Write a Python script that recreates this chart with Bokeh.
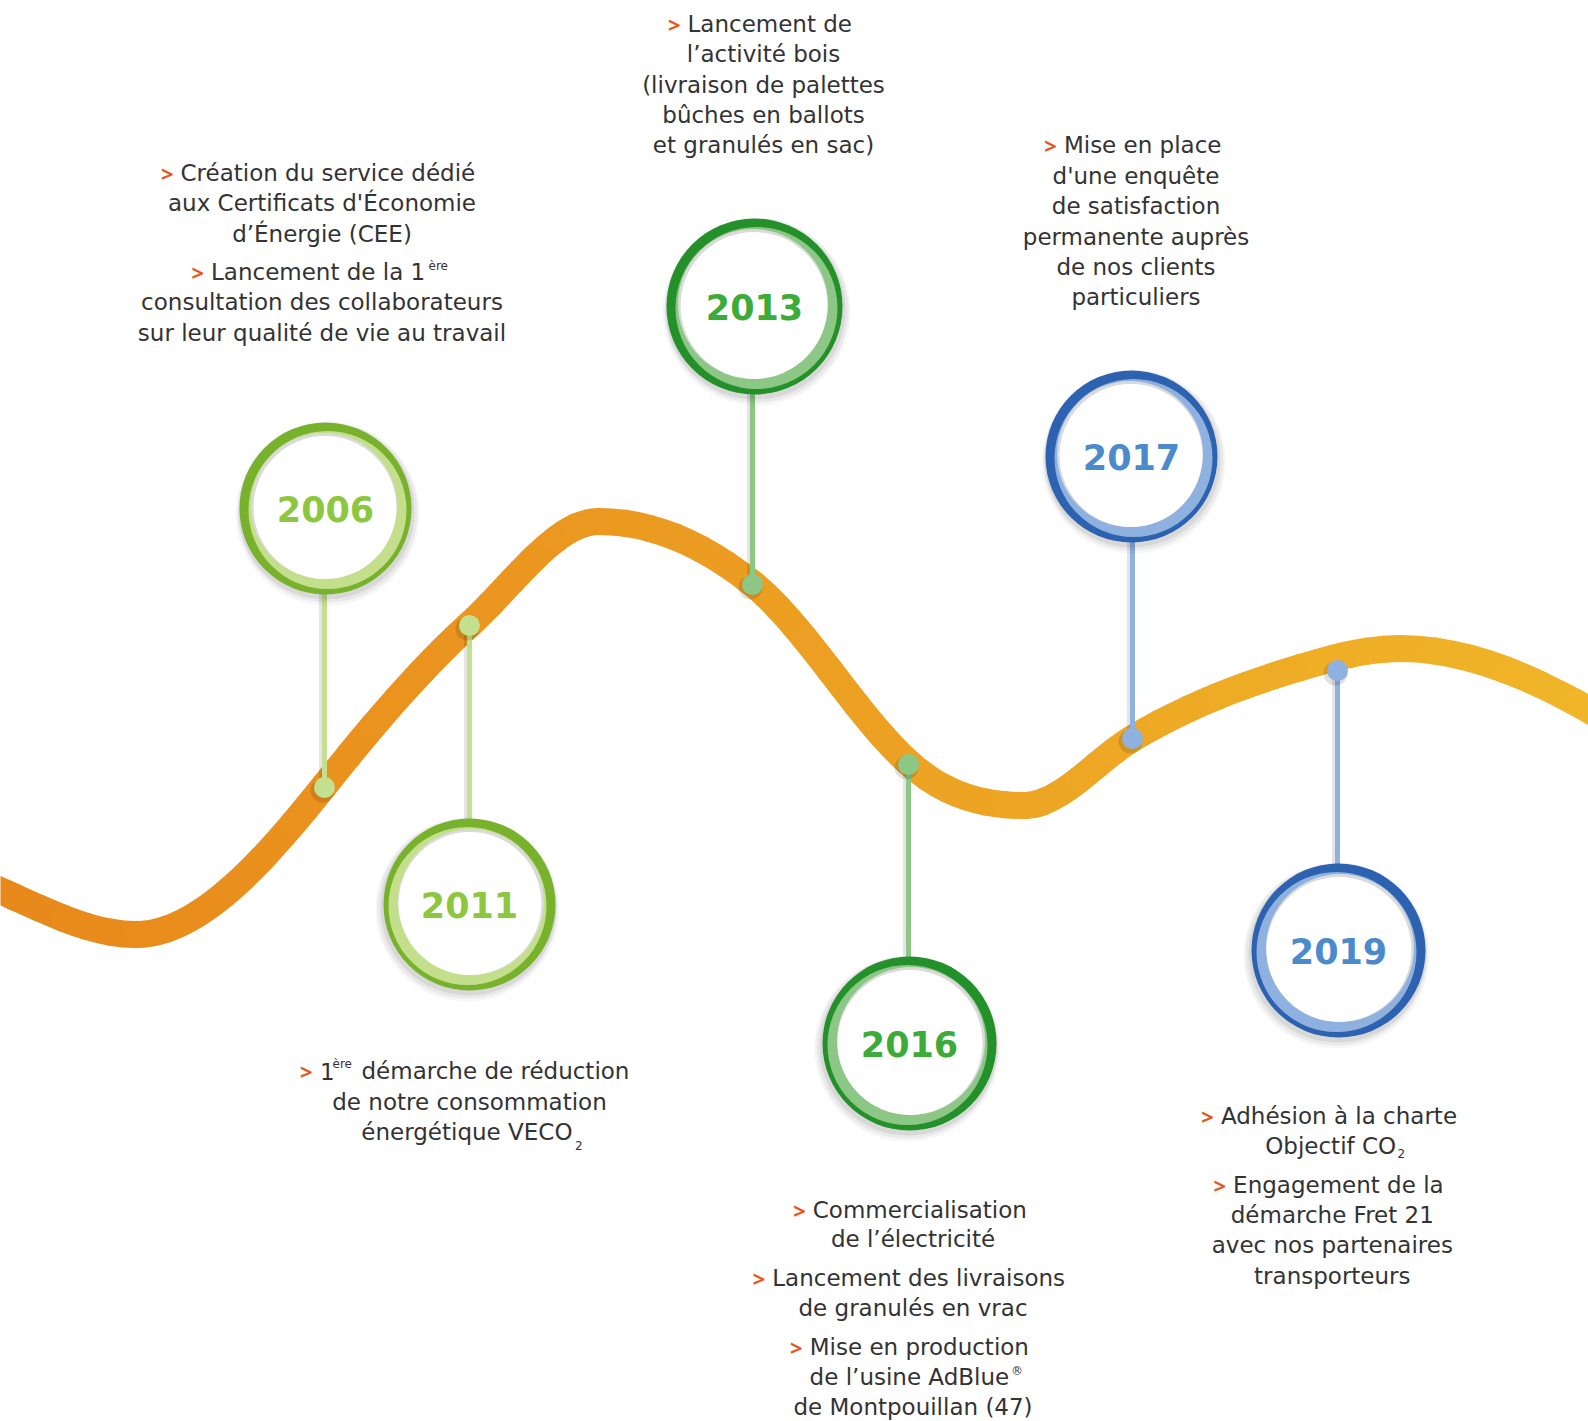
from bokeh.plotting import figure
from bokeh.models import Range1d, ColumnDataSource
from bokeh.embed import file_html
from bokeh.resources import INLINE
from bokeh.core.properties import value

# ---------------- data ----------------
years = ["2006", "2011", "2013", "2016", "2017", "2019"]
circle_x = [325, 469, 754, 909, 1131, 1338]
circle_y = [508, 904, 306, 1043, 456, 950]
circle_r = [86, 86, 88, 87, 86, 87]
# +1: light arc on the right (circles above the wave), -1: on the left (circles below)
ring_side = [1, -1, 1, -1, 1, -1]
dot_x = [324, 469, 752, 908, 1132, 1337]
dot_y = [787, 625, 584, 764, 738, 670]

ring_dark = ["#78B12B", "#78B12B", "#23902A", "#23902A", "#2C62B0", "#2C62B0"]
ring_light = ["#C3DF8C", "#C3DF8C", "#8DC786", "#8DC786", "#8EB1DF", "#8EB1DF"]
year_color = ["#8DC63F", "#8DC63F", "#3CAB37", "#3CAB37", "#4B8ACB", "#4B8ACB"]
stem_color = ["#C3E08E", "#C3E08E", "#8DC786", "#8DC786", "#8EB1DF", "#8EB1DF"]

# wave anchor points (centre line of the band) and local slopes
wave_x = [-10, 135, 324, 469, 598, 752, 908, 1024, 1132, 1300, 1400, 1610]
wave_y = [886, 934, 785, 624, 521, 583, 762, 805, 738, 667, 648, 722]
wave_slope = [0.42, 0, -1.25, -0.9, 0, 0.8, 0.9, 0, -0.6, -0.3, 0, 0.6]
wave_col_left = (232, 136, 27)
wave_col_right = (240, 181, 40)

# text lines
center_text = ["aux Certificats d'Économie", "d’Énergie (CEE)",
               "consultation des collaborateurs", "sur leur qualité de vie au travail",
               "l’activité bois", "(livraison de palettes", "bûches en ballots", "et granulés en sac)",
               "d'une enquête", "de satisfaction", "permanente auprès", "de nos clients", "particuliers",
               "de notre consommation",
               "de l’électricité", "de granulés en vrac", "de Montpouillan (47)",
               "démarche Fret 21", "avec nos partenaires", "transporteurs"]
center_x = [321.5, 321.5, 321.5, 321.5,
            763, 763, 763, 763,
            1135.5, 1135.5, 1135.5, 1135.5, 1135.5,
            469,
            912.5, 912.5, 912.5,
            1331.8, 1331.8, 1331.8]
center_y = [202.6, 233, 301.8, 332.2,
            53.7, 84, 114.4, 144.8,
            175.2, 205.6, 236, 266.4, 296.8,
            1101,
            1238.6, 1307.5, 1406.8,
            1214.4, 1244.7, 1275]

left_text = ["Création du service dédié", "Lancement de la 1",
             "Lancement de", "Mise en place",
             "1", "démarche de réduction",
             "Commercialisation", "Lancement des livraisons", "Mise en production",
             "Adhésion à la charte", "Engagement de la"]
left_x = [180, 210.5, 687, 1063.4, 319.5, 361, 812.3, 771.8, 809.2, 1220.4, 1232.6]
left_y = [172, 271.4, 23.3, 144.8, 1070.5, 1070.5, 1209.3, 1277.1, 1346, 1115, 1184]

right_text = ["énergétique VECO", "de l’usine AdBlue", "Objectif CO"]
right_x = [572, 1008.7, 1395.6]
right_y = [1131.3, 1376.4, 1145.5]

arrow_x = [173, 203.5, 680, 1056.4, 312, 805.3, 764.8, 802.2, 1213.4, 1225.6]
arrow_y = [172, 271.4, 23.3, 144.8, 1070.5, 1209.3, 1277.1, 1346, 1115, 1184]

small_text = ["ère", "ère", "2", "®", "2"]
small_x = [428, 332, 574.5, 1010.5, 1397]
small_y = [265.5, 1063.5, 1144.5, 1370, 1152.6]

# ---------------- figure ----------------
W, H = 1588, 1421
p = figure(width=W, height=H, x_range=Range1d(0, W), y_range=Range1d(H, 0),
           output_backend="svg", toolbar_location=None, min_border=0,
           x_axis_location=None, y_axis_location=None,
           outline_line_color=None, background_fill_color="white",
           border_fill_color="white")
p.xgrid.visible = False
p.ygrid.visible = False


def lerp_col(x):
    t = min(max(x / 1588.0, 0.0), 1.0)
    c = [round(a + (b - a) * t) for a, b in zip(wave_col_left, wave_col_right)]
    return "#%02X%02X%02X" % tuple(c)


wave = dict(x0=[], y0=[], x1=[], y1=[], cx0=[], cy0=[], cx1=[], cy1=[], color=[])
for i in range(len(wave_x) - 1):
    xa, ya, ma = wave_x[i], wave_y[i], wave_slope[i]
    xb, yb, mb = wave_x[i + 1], wave_y[i + 1], wave_slope[i + 1]
    dx = xb - xa
    P = [(xa, ya), (xa + dx / 3, ya + ma * dx / 3), (xb - dx / 3, yb - mb * dx / 3), (xb, yb)]

    def B(t):
        u = 1 - t
        return tuple(u**3 * P[0][k] + 3 * u * u * t * P[1][k] + 3 * u * t * t * P[2][k] + t**3 * P[3][k]
                     for k in range(2))

    def dB(t):
        u = 1 - t
        return tuple(3 * u * u * (P[1][k] - P[0][k]) + 6 * u * t * (P[2][k] - P[1][k]) + 3 * t * t * (P[3][k] - P[2][k])
                     for k in range(2))

    n = 6
    for j in range(n):
        a, b = j / n, (j + 1) / n
        pa, pb, da, db = B(a), B(b), dB(a), dB(b)
        h = (b - a) / 3
        wave["x0"].append(pa[0]); wave["y0"].append(pa[1])
        wave["x1"].append(pb[0]); wave["y1"].append(pb[1])
        wave["cx0"].append(pa[0] + h * da[0]); wave["cy0"].append(pa[1] + h * da[1])
        wave["cx1"].append(pb[0] - h * db[0]); wave["cy1"].append(pb[1] - h * db[1])
        wave["color"].append(lerp_col((pa[0] + pb[0]) / 2))

p.bezier(x0="x0", y0="y0", x1="x1", y1="y1", cx0="cx0", cy0="cy0", cx1="cx1", cy1="cy1",
         source=ColumnDataSource(wave), line_color="color", line_width=27, line_cap="round")

# stems
sx_sh = [x - 3 for x in dot_x]
p.segment(x0=sx_sh, y0=dot_y, x1=sx_sh, y1=circle_y, line_color="black", line_alpha=0.10, line_width=5)
p.segment(x0=dot_x, y0=dot_y, x1=dot_x, y1=circle_y, line_color=stem_color, line_width=5)

# dots
p.circle(x=[x - 2 for x in dot_x], y=[y + 3 for y in dot_y], radius=12, fill_color="black",
         fill_alpha=0.12, line_color=None)
p.circle(x=dot_x, y=dot_y, radius=10.5, fill_color=stem_color, line_color=None)

# rings
for off, extra, alpha in [((2, 5), 6, 0.035), ((2, 4), 4, 0.05), ((1, 3), 2, 0.07)]:
    p.circle(x=[x + s * off[0] for x, s in zip(circle_x, ring_side)], y=[y + off[1] for y in circle_y],
             radius=[r + extra for r in circle_r], fill_color="black", fill_alpha=alpha, line_color=None)
p.circle(x=circle_x, y=circle_y, radius=circle_r, fill_color=ring_dark, line_color=None)
p.circle(x=[x + 2 * s for x, s in zip(circle_x, ring_side)], y=[y + 1.5 for y in circle_y],
         radius=[r - 7 for r in circle_r], fill_color=ring_light, line_color=None)
p.circle(x=[x - 1.5 * s for x, s in zip(circle_x, ring_side)], y=[y - 2.5 for y in circle_y],
         radius=[r - 13 for r in circle_r], fill_color="#DADADA", line_color=None)
p.circle(x=[x - 0.5 * s for x, s in zip(circle_x, ring_side)], y=[y - 1 for y in circle_y],
         radius=[r - 14.5 for r in circle_r], fill_color="white", line_color=None)

p.text(x=circle_x, y=circle_y, text=years, text_color=year_color, text_font=value("DejaVu Sans"),
       text_font_style="bold", text_font_size="35px", text_align="center", text_baseline="middle")

# body text
FONT = value("DejaVu Sans")
FS = "23px"
TCOL = "#333333"
p.text(x=center_x, y=center_y, text=center_text, text_font=FONT, text_font_size=FS,
       text_color=TCOL, text_align="center", text_baseline="middle")
p.text(x=left_x, y=left_y, text=left_text, text_font=FONT, text_font_size=FS,
       text_color=TCOL, text_align="left", text_baseline="middle")
p.text(x=right_x, y=right_y, text=right_text, text_font=FONT, text_font_size=FS,
       text_color=TCOL, text_align="right", text_baseline="middle")
p.text(x=arrow_x, y=arrow_y, text=[">"] * len(arrow_x), text_font=value("Open Sans"), text_font_size="22px",
       text_color="#E8561C", text_align="right", text_baseline="middle", text_font_style="bold")
p.text(x=small_x, y=small_y, text=small_text, text_font=FONT, text_font_size="12px",
       text_color=TCOL, text_align="left", text_baseline="middle")

open("out.html", "w").write(file_html(p, INLINE))
